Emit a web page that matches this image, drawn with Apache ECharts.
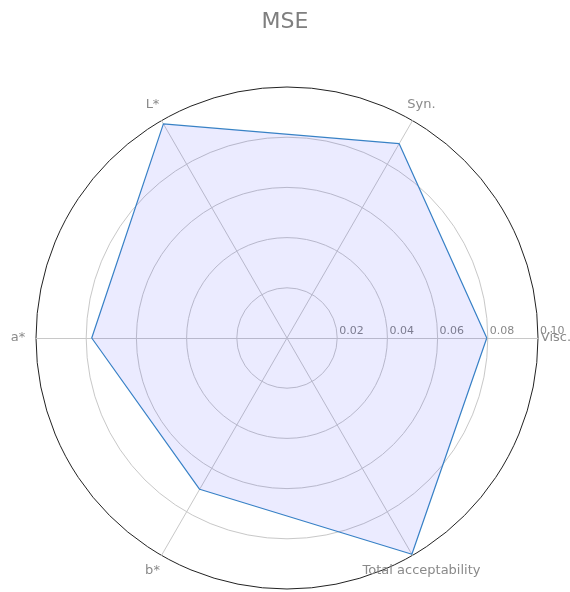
<!DOCTYPE html>
<html>
<head>
<meta charset="utf-8">
<script src="https://cdn.jsdelivr.net/npm/echarts@6/dist/echarts.min.js"></script>
<style>
html,body{margin:0;padding:0;background:#fff;}
#chart{width:570px;height:592px;}
</style>
</head>
<body>
<div id="chart"></div>
<script>
const categories = ['Visc.', 'Syn.', 'L*', 'a*', 'b*', 'Total acceptability'];
const mseValues = [0.0796, 0.0894, 0.0985, 0.0778, 0.0696, 0.0995];
const radialMax = 0.10;
const titleText = 'MSE';

const chart = echarts.init(document.getElementById('chart'));
const indicators = categories.map((name, i) => {
  const ind = { name: name, max: radialMax, min: 0 };
  if (i === 0) {
    ind.nameMoveOverlap = false;
    ind.axisLabel = {
      show: true,
      color: '#888888',
      fontSize: 11,
      fontFamily: 'DejaVu Sans',
      margin: 1,
      align: 'left',
      verticalAlign: 'bottom',
      padding: [0, 0, 0, 2],
      hideOverlap: false,
      formatter: v => (v === 0 ? '' : Number(v).toFixed(2))
    };
  }
  return ind;
});

chart.setOption({
  backgroundColor: '#fff',
  animation: false,
  title: {
    text: titleText,
    left: 'center',
    top: 6,
    textStyle: { color: '#7f7f7f', fontSize: 22, fontWeight: 'normal', fontFamily: 'DejaVu Sans' }
  },
  radar: {
    center: [287, 338],
    radius: 251,
    startAngle: 0,
    shape: 'circle',
    splitNumber: 5,
    indicator: indicators,
    nameMoveOverlap: false,
    axisName: {
      color: '#8a8a8a',
      fontSize: 13,
      fontFamily: 'DejaVu Sans',
      align: 'center',
      verticalAlign: 'middle'
    },
    nameGap: 18,
    axisLine: { lineStyle: { color: '#c8c8c8', width: 1 } },
    splitLine: { lineStyle: { color: ['#c8c8c8', '#c8c8c8', '#c8c8c8', '#c8c8c8', '#c8c8c8', '#222'], width: 1 } },
    splitArea: { show: false },
    axisTick: { show: false },
    axisLabel: { show: false }
  },
  series: [{
    type: 'radar',
    symbol: 'none',
    lineStyle: { color: '#3a86c4', width: 1.2 },
    areaStyle: { color: 'rgba(0,0,255,0.11)' },
    data: [{ value: mseValues, name: titleText }]
  }]
});
</script>
</body>
</html>
